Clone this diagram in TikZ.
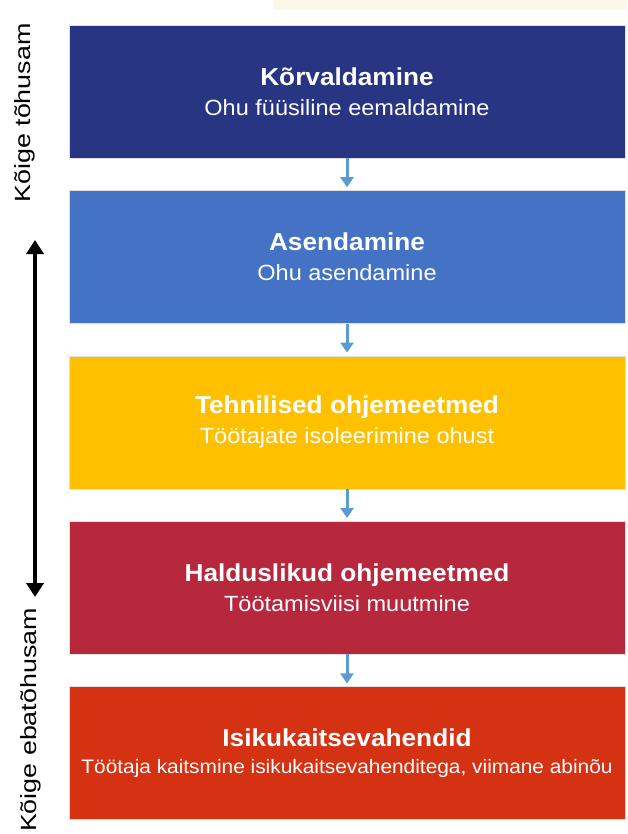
\documentclass[tikz,border=0pt]{standalone}
\usepackage{fontspec}
\setmainfont{Liberation Sans}[FakeStretch=1.07]
\newfontfamily\sidefont{Liberation Sans}[FakeStretch=1.22]
\usetikzlibrary{positioning, arrows.meta}

\definecolor{navy}{HTML}{283583}
\definecolor{midblue}{HTML}{4472C4}
\definecolor{gold}{HTML}{FFC000}
\definecolor{crimson}{HTML}{B8283D}
\definecolor{vermilion}{HTML}{D53113}
\definecolor{arrowblue}{HTML}{5B9BD5}
\definecolor{paper}{HTML}{FDF7EA}

\tikzstyle{level} = [
    rectangle,
    minimum width=556pt,
    minimum height=133pt,
    inner sep=0pt,
    align=center,
    text=white,
    draw=black!12,
    font=\fontsize{22}{30}\selectfont
]
\tikzstyle{sidelabel} = [
    rotate=90,
    anchor=base,
    inner sep=0pt,
    font=\sidefont\fontsize{22}{25}\selectfont
]
\tikzstyle{arrow} = [line width=3pt,draw=arrowblue,-{Triangle[width=13pt,length=10pt]},shorten >=3pt]
\tikzstyle{rangearrow} = [line width=4.5pt,{Triangle[width=17pt,length=14pt]}-{Triangle[width=17pt,length=14pt]}]

\begin{document}
\begin{tikzpicture}[node distance=32pt]
\useasboundingbox (0,0) rectangle (627pt,-834pt);

% strip of the next page
\fill [paper] (274pt,0) rectangle (627pt,-10pt);

\node (elim) [level, fill=navy] at (347pt,-91.5pt)
{{\bfseries\fontsize{24.5}{30}\selectfont Kõrvaldamine}\\Ohu füüsiline eemaldamine};

\node (subst) [level, fill=midblue, below=of elim]
{{\bfseries\fontsize{24.5}{30}\selectfont Asendamine}\\Ohu asendamine};

\node (eng) [level, fill=gold, below=of subst]
{{\bfseries\fontsize{24.5}{30}\selectfont Tehnilised ohjemeetmed}\\Töötajate isoleerimine ohust};

\node (admin) [level, fill=crimson, below=of eng]
{{\bfseries\fontsize{24.5}{30}\selectfont Halduslikud ohjemeetmed}\\Töötamisviisi muutmine};

\node (ppe) [level, fill=vermilion, below=of admin, font=\fontsize{19.5}{27}\selectfont]
{{\bfseries\fontsize{24.5}{27}\selectfont Isikukaitsevahendid}\\Töötaja kaitsmine isikukaitsevahenditega, viimane abinõu};

\draw [arrow] (elim) -- (subst);
\draw [arrow] (subst) -- (eng);
\draw [arrow] (eng) -- (admin);
\draw [arrow] (admin) -- (ppe);

% effectiveness scale on the left
\node (best) [sidelabel] at (30pt,-113pt) {Kõige tõhusam};
\node (worst) [sidelabel] at (36pt,-720pt) {Kõige ebatõhusam};
\coordinate (most) at (35pt,-240pt);
\coordinate (least) at (35pt,-597pt);
\draw [rangearrow] (most) -- (least);

\end{tikzpicture}
\end{document}
